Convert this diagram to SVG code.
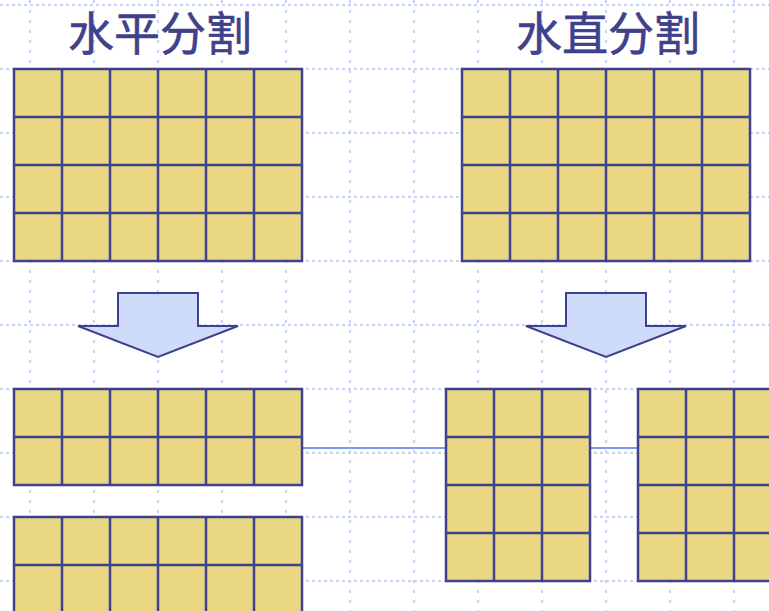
<svg xmlns="http://www.w3.org/2000/svg" width="769" height="611" viewBox="0 0 769 611">
<style>
.bg{fill:#ffffff}
.gh{stroke:#c5d2f6;stroke-width:2;stroke-dasharray:3 3}
.gv{stroke:#c5d2f6;stroke-width:2;stroke-dasharray:3 7}
.tbl{fill:#ead784;stroke:#3f418c;stroke-width:2.5}
.ln{fill:none;stroke:#3f418c;stroke-width:2.5}
.arrow{fill:#cfdbfb;stroke:#3f418c;stroke-width:2;stroke-linejoin:miter}
.title{font-family:"Noto Sans CJK SC","Noto Sans CJK JP",sans-serif;font-size:46px;font-weight:400;fill:#3f418c;stroke:#3f418c;stroke-width:0.6;text-anchor:middle}
.link{stroke:#7d98ea;stroke-width:2;fill:none}
</style>
<rect class="bg" x="0" y="0" width="769" height="611"/>
<g id="background-grid">
<line class="gh" x1="0" y1="5" x2="769" y2="5"/>
<line class="gh" x1="0" y1="69" x2="769" y2="69"/>
<line class="gh" x1="0" y1="133" x2="769" y2="133"/>
<line class="gh" x1="0" y1="197" x2="769" y2="197"/>
<line class="gh" x1="0" y1="261" x2="769" y2="261"/>
<line class="gh" x1="0" y1="325" x2="769" y2="325"/>
<line class="gh" x1="0" y1="389" x2="769" y2="389"/>
<line class="gh" x1="0" y1="453" x2="769" y2="453"/>
<line class="gh" x1="0" y1="517" x2="769" y2="517"/>
<line class="gh" x1="0" y1="581" x2="769" y2="581"/>
<line class="gv" x1="30" y1="0" x2="30" y2="611"/>
<line class="gv" x1="94" y1="0" x2="94" y2="611"/>
<line class="gv" x1="158" y1="0" x2="158" y2="611"/>
<line class="gv" x1="222" y1="0" x2="222" y2="611"/>
<line class="gv" x1="286" y1="0" x2="286" y2="611"/>
<line class="gv" x1="350" y1="0" x2="350" y2="611"/>
<line class="gv" x1="414" y1="0" x2="414" y2="611"/>
<line class="gv" x1="478" y1="0" x2="478" y2="611"/>
<line class="gv" x1="542" y1="0" x2="542" y2="611"/>
<line class="gv" x1="606" y1="0" x2="606" y2="611"/>
<line class="gv" x1="670" y1="0" x2="670" y2="611"/>
<line class="gv" x1="734" y1="0" x2="734" y2="611"/>
</g>
<g id="connectors">
<line class="link" x1="302" y1="448" x2="638" y2="448"/>
</g>
<g id="title-horizontal"><text class="title" x="160" y="50">水平分割</text></g>
<g id="title-vertical"><text class="title" x="608" y="50">水直分割</text></g>
<g id="table-left-top">
<rect class="tbl" x="14" y="69" width="288" height="192"/>
<path class="ln" d="M62 69V261M110 69V261M158 69V261M206 69V261M254 69V261M14 117H302M14 165H302M14 213H302"/>
</g>
<g id="table-right-top">
<rect class="tbl" x="462" y="69" width="288" height="192"/>
<path class="ln" d="M510 69V261M558 69V261M606 69V261M654 69V261M702 69V261M462 117H750M462 165H750M462 213H750"/>
</g>
<g id="arrow-left"><polygon class="arrow" points="118,293 198,293 198,326 238,326 158,357 78,326 118,326"/></g>
<g id="arrow-right"><polygon class="arrow" points="566,293 646,293 646,326 686,326 606,357 526,326 566,326"/></g>
<g id="part-h1">
<rect class="tbl" x="14" y="389" width="288" height="96"/>
<path class="ln" d="M62 389V485M110 389V485M158 389V485M206 389V485M254 389V485M14 437H302"/>
</g>
<g id="part-h2">
<rect class="tbl" x="14" y="517" width="288" height="96"/>
<path class="ln" d="M62 517V613M110 517V613M158 517V613M206 517V613M254 517V613M14 565H302"/>
</g>
<g id="part-v1">
<rect class="tbl" x="446" y="389" width="144" height="192"/>
<path class="ln" d="M494 389V581M542 389V581M446 437H590M446 485H590M446 533H590"/>
</g>
<g id="part-v2">
<rect class="tbl" x="638" y="389" width="144" height="192"/>
<path class="ln" d="M686 389V581M734 389V581M638 437H782M638 485H782M638 533H782"/>
</g>
</svg>
